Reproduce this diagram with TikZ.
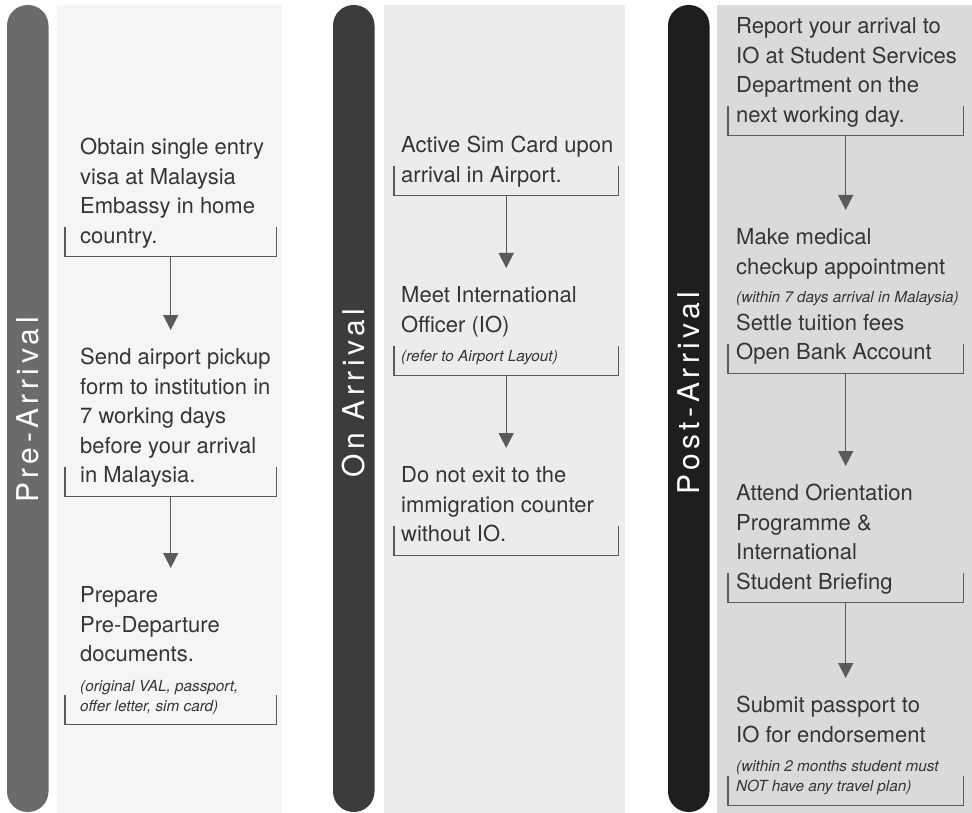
\documentclass[tikz,border=0pt]{standalone}
\usepackage{fontspec}
\setmainfont{TeX Gyre Heros}
\newfontfamily\barfont[LetterSpace=15]{TeX Gyre Heros}
\usepackage{xcolor}
\usepackage{tikz}
\usetikzlibrary{arrows.meta}

\definecolor{preBar}{HTML}{6B6B6B}
\definecolor{onBar}{HTML}{3C3C3B}
\definecolor{postBar}{HTML}{1E1E1C}
\definecolor{prePanel}{HTML}{F5F5F5}
\definecolor{onPanel}{HTML}{ECECEC}
\definecolor{postPanel}{HTML}{DADADA}
\definecolor{inkGray}{HTML}{353535}
\definecolor{lineGray}{HTML}{5A5A5A}

\newcommand{\steptext}{\fontsize{22}{29.5}\selectfont\upshape}
\newcommand{\stepnote}{\fontsize{15.3}{29.5}\selectfont\itshape}
\newcommand{\lastdepth}{\rule[-9pt]{0pt}{9pt}}

\begin{document}
\begin{tikzpicture}[x=1pt, y=-1pt, >={Triangle[width=15pt,length=15pt]},
    stepnode/.style 2 args={anchor=north west, align=left, text width=#1,
      inner xsep=0pt, inner ysep=4pt, font=\steptext, text=inkGray,
      execute at begin node={\leftskip=#2\spaceskip=0pt\xspaceskip=0pt\strut},
      execute at end node={\lastdepth}},
    flow/.style={->, draw=lineGray, line width=1.4pt, shorten >=10pt},
    frame/.style={draw=lineGray, line width=1.1pt},
    phase/.style={rotate=90, text=white, font={\barfont\fontsize{30}{30}\selectfont}}]
    \useasboundingbox (0,0) rectangle (972,813);
    % panels and side bars
    \foreach \i/\bx/\px/\pw/\ly/\name in {pre/7/57/225/410/Pre-Arrival,
        on/333/384/241/393/On Arrival, post/668/717/255/393/Post-Arrival} {
      \fill[\i Panel] (\px,5) rectangle ++(\pw,808);
      \fill[\i Bar, rounded corners=20.5pt] (\bx,5) rectangle ++(41.5,807);
      \node[phase] (\i) at (\bx+20.75,\ly) {\name};
    }
    % pre-arrival
    \node[stepnode={211pt}{15pt}] (a1) at (65,130) {Obtain single entry\\ visa at Malaysia\\ Embassy in home\\ country.};
    \node[stepnode={211pt}{15pt}] (a2) at (65,340) {Send airport pickup\\ form to institution in\\ 7 working days\\ before your arrival\\ in Malaysia.};
    \node[stepnode={211pt}{15pt}] (a3) at (65,578) {Prepare\\ Pre-Departure\\ documents.\\ \stepnote (original VAL, passport,\\[-9.5pt] offer letter, sim card)};
    % on arrival
    \node[stepnode={224pt}{7pt}] (b1) at (394,128) {Active Sim Card upon\\ arrival in Airport.};
    \node[stepnode={224pt}{7pt}] (b2) at (394,278) {Meet International\\ Officer (IO)\\ \stepnote (refer to Airport Layout)};
    \node[stepnode={224pt}{7pt}] (b3) at (394,458) {Do not exit to the\\ immigration counter\\ without IO.};
    % post-arrival
    \node[stepnode={235pt}{8pt}] (c1) at (728,9) {Report your arrival to\\ IO at Student Services\\ Department on the\\ next working day.};
    \node[stepnode={235pt}{8pt}] (c2) at (728,220) {Make medical\\ checkup appointment\\[-1pt] \stepnote (within 7 days arrival in Malaysia)\\[-2pt] \steptext Settle tuition fees\\ Open Bank Account};
    \node[stepnode={235pt}{8pt}] (c3) at (728,476) {Attend Orientation\\ Programme \&\\ International\\ Student Briefing};
    \node[stepnode={235pt}{8pt}] (c4) at (728,688) {Submit passport to\\ IO for endorsement\\ \stepnote (within 2 months student must\\[-9.5pt] NOT have any travel plan)};
    % open frames under each step
    \foreach \n in {a1,a2,a3,b1,b2,b3,c1,c2,c3,c4}
      \draw[frame] ([yshift=29.5pt]\n.south west) |- (\n.south east) -- ([yshift=29.5pt]\n.south east);
    \draw (a1) edge[flow] (a2)
          (a2) edge[flow] (a3)
          (b1) edge[flow] (b2)
          (b2) edge[flow] (b3)
          (c1) edge[flow] (c2)
          (c2) edge[flow] (c3)
          (c3) edge[flow] (c4);
\end{tikzpicture}
\end{document}
